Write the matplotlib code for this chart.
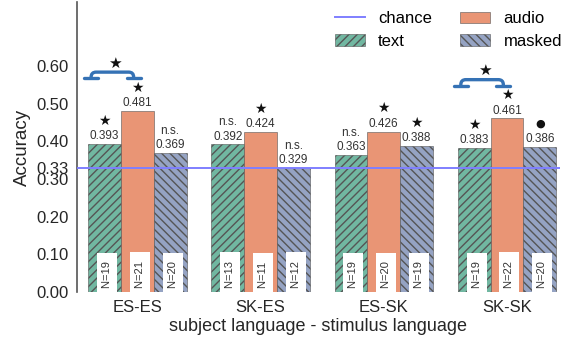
import numpy as np
import matplotlib
matplotlib.use("Agg")
import matplotlib.pyplot as plt

plt.rcParams['font.family'] = ['Liberation Sans', 'DejaVu Sans']
plt.rcParams['hatch.color'] = '#222222'
plt.rcParams['hatch.linewidth'] = 1.0

groups = ['ES-ES', 'SK-ES', 'ES-SK', 'SK-SK']
conditions = ['text', 'audio', 'masked']

text_acc = [0.393, 0.392, 0.363, 0.383]
audio_acc = [0.481, 0.424, 0.426, 0.461]
masked_acc = [0.369, 0.329, 0.388, 0.386]

text_n = [19, 13, 19, 19]
audio_n = [21, 11, 20, 22]
masked_n = [20, 12, 19, 20]

# significance vs. chance for each bar
text_sig = ['★', 'n.s.', 'n.s.', '★']
audio_sig = ['★', '★', '★', '★']
masked_sig = ['n.s.', 'n.s.', '★', '●']

# text-vs-audio comparisons marked with a bracket
bracket_groups = [0, 3]
bracket_sig = ['★', '★']

chance = 0.33

colors = {'text': '#71b7a1', 'audio': '#e99575', 'masked': '#95a3c3'}
hatches = {'text': '////', 'audio': '', 'masked': '\\\\\\\\'}

fig = plt.figure(figsize=(5.7, 3.4), dpi=100)
ax = fig.add_axes([0.135, 0.141, 0.8475, 0.853])

x = np.arange(len(groups))
w = 0.266
offsets = {'text': -w, 'audio': 0.0, 'masked': w}
acc = {'text': text_acc, 'audio': audio_acc, 'masked': masked_acc}
ns = {'text': text_n, 'audio': audio_n, 'masked': masked_n}
sig = {'text': text_sig, 'audio': audio_sig, 'masked': masked_sig}

chance_line = ax.axhline(chance, color='#7f7fff', lw=1.4, zorder=4, label='chance')

bars = {}
for c in conditions:
    xs = x + offsets[c]
    bars[c] = ax.bar(xs, acc[c], width=w, color=colors[c], hatch=hatches[c],
                     edgecolor='#555555', linewidth=0.4, label=c, zorder=2)
    for xi, v, n, s in zip(xs, acc[c], ns[c], sig[c]):
        ax.text(xi, v + 0.005, f'{v:.3f}', ha='center', va='bottom',
                fontsize=8.5, color='#333333', zorder=5)
        if s == 'n.s.':
            ax.text(xi, v + 0.043, s, ha='center', va='bottom',
                    fontsize=8.5, color='#333333', zorder=5)
        else:
            ax.text(xi, v + 0.062, s, ha='center', va='center',
                    fontsize=10 if s == '★' else 8, color='#111111',
                    family='DejaVu Sans', zorder=5)
        ax.text(xi + 0.02, 0.012, f'N={n} ', rotation=90, ha='center', va='bottom',
                fontsize=8, color='#333333', zorder=5,
                bbox=dict(boxstyle='square,pad=0.45', fc='white', ec='none'))

# brackets between text and audio bars
for g, s in zip(bracket_groups, bracket_sig):
    top = audio_acc[g]
    x0 = x[g] - 0.375
    x1 = x[g] - 0.03
    yb = top + 0.087
    ax.annotate('', xy=(x1, yb), xytext=(x0, yb),
                arrowprops=dict(arrowstyle='|-|,widthA=0.5,widthB=0.5',
                                connectionstyle='arc,angleA=90,angleB=90,armA=6,armB=6,rad=5',
                                color='#3572b5', lw=2.4, shrinkA=0, shrinkB=0),
                zorder=5)
    ax.text((x0 + x1) / 2 + 0.02, top + 0.127, s, ha='center', va='center',
            fontsize=11, color='#111111', family='DejaVu Sans', zorder=5)

ax.set_xlim(-0.49, 3.43)
ax.set_ylim(0, 0.77)
ax.set_xticks(x)
ax.set_xticklabels(groups)
yt = [0.0, 0.1, 0.2, 0.3, chance, 0.4, 0.5, 0.6]
ax.set_yticks(yt)
ax.set_yticklabels([f'{t:.2f}' for t in yt])
ax.tick_params(length=0, labelsize=12, colors='#262626', pad=6)
ax.set_xlabel('subject language - stimulus language', fontsize=13, color='#262626', labelpad=2)
ax.set_ylabel('Accuracy', fontsize=13.5, color='#262626')

for side in ['top', 'right', 'bottom']:
    ax.spines[side].set_visible(False)
ax.spines['left'].set_color('#555555')
ax.spines['left'].set_linewidth(1.2)

handles = [chance_line, bars['text'], bars['audio'], bars['masked']]
ax.legend(handles=handles, labels=['chance', 'text', 'audio', 'masked'],
          ncol=2, loc='upper right', bbox_to_anchor=(1.035, 1.02), frameon=False,
          fontsize=12, handlelength=1.8, handletextpad=0.8,
          columnspacing=1.7, labelspacing=0.45)

fig.savefig('out.png', dpi=100)
